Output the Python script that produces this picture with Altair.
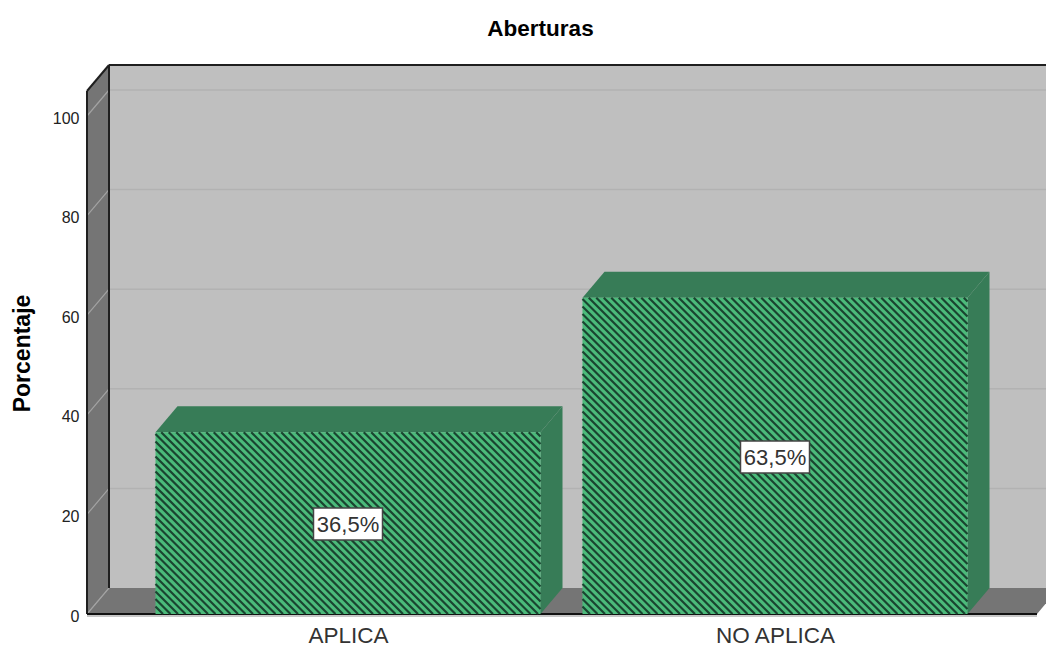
import altair as alt
import pandas as pd

categories = ["APLICA", "NO APLICA"]
percentages = [36.5, 63.5]
value_labels = ["36,5%", "63,5%"]
y_ticks = [0, 20, 40, 60, 80, 100]

# Scale factors of the plot frame
PX_PER_CAT = 427.0
PX_PER_PCT = 4.98
VIEW_W, VIEW_H = 959, 549
X_LOW = -261.0 / PX_PER_CAT       # category units at the frame's left edge
Y_TOP = VIEW_H / PX_PER_PCT

DX = 22.0 / PX_PER_CAT            # oblique depth of the box
DY = 26.0 / PX_PER_PCT
BACK_LEFT = X_LOW + DX
FRONT_RIGHT = X_LOW + 950.0 / PX_PER_CAT
BACK_RIGHT = FRONT_RIGHT + DX
BACK_TOP = Y_TOP                  # the back wall reaches the top of the view
FRONT_TOP = Y_TOP - DY
BAR_HALF = 192.5 / PX_PER_CAT

category_expr = "datum.value === 0 ? '" + categories[0] + "' : '" + categories[1] + "'"
x_axis = alt.Axis(
    values=[0, 1], labelExpr=category_expr, title=None, domain=False, ticks=False, grid=False,
    labelFont="Liberation Sans", labelFontSize=22.5, labelColor="#333333",
    labelPadding=10, labelOverlap=False, labelFlush=False,
)
y_axis = alt.Axis(
    values=y_ticks, title="Porcentaje", domain=False, ticks=False, grid=False,
    labelFont="Liberation Sans", labelFontSize=16, labelColor="#222222", labelPadding=8,
    labelOffset=2,
    titleFont="Liberation Sans", titleFontSize=23, titleFontWeight="bold", titleColor="#000000",
    titleX=-53, titleY=288,
)
x_scale = alt.Scale(domain=[X_LOW, X_LOW + VIEW_W / PX_PER_CAT], nice=False, zero=False)
y_scale = alt.Scale(domain=[0, Y_TOP], nice=False, zero=False)
X = alt.X("x:Q", scale=x_scale, axis=x_axis)
Y = alt.Y("y:Q", scale=y_scale, axis=y_axis)


def face(rows, color):
    """Filled polygon given as (x, lower, upper) columns."""
    df = pd.DataFrame(rows, columns=["x", "y", "y2"])
    return alt.Chart(df).mark_area(color=color, orient="vertical", clip=False, opacity=1).encode(
        x=X, y=Y, y2="y2:Q"
    )


def segments(rows, color, width):
    df = pd.DataFrame(rows, columns=["x", "y", "x2", "y2"])
    return alt.Chart(df).mark_rule(color=color, strokeWidth=width, clip=False).encode(
        x=X, y=Y, x2="x2:Q", y2="y2:Q"
    )


WALL = "#bfbfbf"
SIDE = "#757575"
BAR_FACE = "#4bba7a"
BAR_DEPTH = "#377c57"
HATCH = "#1a4430"

layers = []

# Back wall, left wall and floor
layers.append(face([(BACK_LEFT, DY, BACK_TOP), (BACK_RIGHT, DY, BACK_TOP)], WALL))
layers.append(face([(X_LOW, 0, FRONT_TOP), (BACK_LEFT, DY, BACK_TOP)], SIDE))
layers.append(face([(X_LOW, 0, 0), (BACK_LEFT, 0, DY), (FRONT_RIGHT, 0, DY), (BACK_RIGHT, DY, DY)], SIDE))

# Gridlines across the back wall and down the left wall
grid_ticks = [t for t in y_ticks if t > 0]
layers.append(segments([(BACK_LEFT, t + DY, BACK_RIGHT, t + DY) for t in grid_ticks], "#b2b2b2", 1.5))
layers.append(segments([(X_LOW, t, BACK_LEFT, t + DY) for t in y_ticks], "#a3a3a3", 1.2))

# Box outline
layers.append(segments(
    [
        (BACK_LEFT, BACK_TOP, BACK_RIGHT, BACK_TOP),
        (BACK_LEFT, DY, BACK_LEFT, BACK_TOP),
        (X_LOW, 0, X_LOW, FRONT_TOP),
        (X_LOW, FRONT_TOP, BACK_LEFT, BACK_TOP),
    ],
    "#1f1f1f",
    2,
))
layers.append(segments([(X_LOW, -0.4, FRONT_RIGHT, -0.4)], "#b5b5b5", 1.5))
layers.append(segments([(X_LOW, 0, FRONT_RIGHT, 0)], "#111111", 2))

# Oblique bars: depth faces, hatched front face
hatch_rows = []
for i, value in enumerate(percentages):
    left, right = i - BAR_HALF, i + BAR_HALF
    layers.append(face(
        [(left, value, value), (left + DX, value, value + DY),
         (right, value, value + DY), (right + DX, value + DY, value + DY)],
        BAR_DEPTH,
    ))
    layers.append(face([(right, 0, value), (right + DX, DY, value + DY)], BAR_DEPTH))

    # Clip 45-degree hatch strokes to the front face, working in pixels
    w = (right - left) * PX_PER_CAT
    h = value * PX_PER_PCT
    period = 7.5
    start = -h
    while start < w:
        x0 = max(start, 0.0)
        x1 = min(start + h, w)
        if x1 > x0:
            hatch_rows.append((
                left + x0 / PX_PER_CAT,
                value - (x0 - start) / PX_PER_PCT,
                left + x1 / PX_PER_CAT,
                value - (x1 - start) / PX_PER_PCT,
            ))
        start += period

faces = pd.DataFrame({
    "x": [i - BAR_HALF for i in range(len(percentages))],
    "x2": [i + BAR_HALF for i in range(len(percentages))],
    "y": [0.0] * len(percentages),
    "y2": percentages,
})
layers.append(alt.Chart(faces).mark_rect(color=BAR_FACE).encode(x=X, x2="x2:Q", y=Y, y2="y2:Q"))
layers.append(segments(hatch_rows, HATCH, 2.2))

# Value labels in white boxes, centred on each bar
box_w = 34.5 / PX_PER_CAT
box_h = 16.0 / PX_PER_PCT
box_drop = 1.0 / PX_PER_PCT
boxes = pd.DataFrame({
    "x": [i - box_w for i in range(len(percentages))],
    "x2": [i + box_w for i in range(len(percentages))],
    "y": [v / 2 - box_h - box_drop for v in percentages],
    "y2": [v / 2 + box_h - box_drop for v in percentages],
})
layers.append(alt.Chart(boxes).mark_rect(color="white", stroke="#444444", strokeWidth=1.5).encode(
    x=X, x2="x2:Q", y=Y, y2="y2:Q"
))
labels = pd.DataFrame({
    "x": list(range(len(percentages))),
    "y": [v / 2 for v in percentages],
    "label": value_labels,
})
layers.append(alt.Chart(labels).mark_text(
    font="Liberation Sans", fontSize=22, color="#333333", align="center", baseline="middle", dy=2
).encode(x=X, y=Y, text="label:N"))

chart = alt.layer(*layers).properties(
    width=VIEW_W,
    height=VIEW_H,
    padding={"left": 87, "top": 65, "right": 0, "bottom": 32},
    autosize=alt.AutoSizeParams(type="none"),
    title=alt.TitleParams(
        "Aberturas", font="Liberation Sans", fontSize=22.5, fontWeight="bold", color="#000000",
        anchor="middle", dx=-26, offset=24,
    ),
).configure_view(stroke=None)

chart.save("out.html", embed_options={"renderer": "svg", "actions": False})
